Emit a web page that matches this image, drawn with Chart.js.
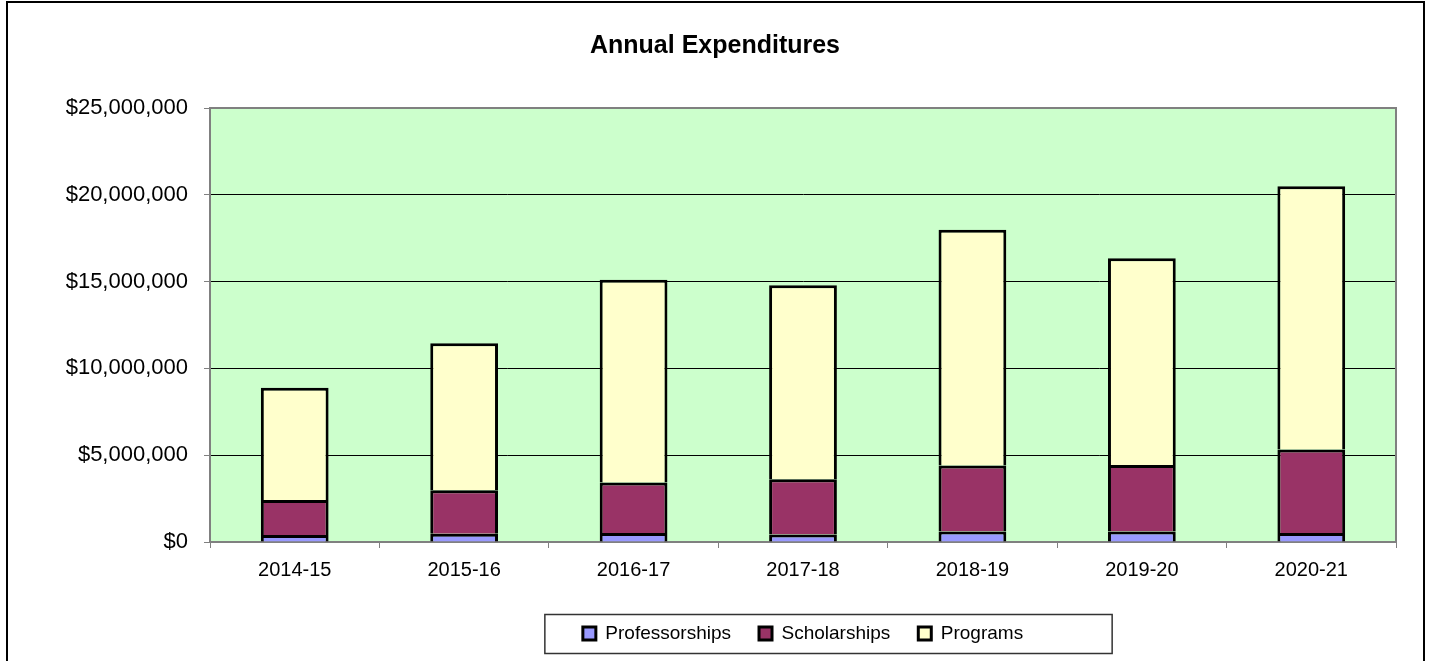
<!DOCTYPE html>
<html lang="en">
<head>
  <meta charset="UTF-8">
  <title>Annual Expenditures</title>
  <script src="https://cdn.jsdelivr.net/npm/chart.js"></script>
  <style>
    body { margin: 0; background: #fff; overflow: hidden; }
    #wrap { position: relative; width: 1430px; height: 680px; }
  </style>
</head>
<body>
  <div id="wrap"><canvas id="myChart" width="1430" height="680"></canvas></div>

  <script>
    // values (dollars)
    const years = ["2014-15", "2015-16", "2016-17", "2017-18", "2018-19", "2019-20", "2020-21"];
    const professorships = [400000, 480000, 520000, 430000, 600000, 600000, 520000];
    const scholarships = [2020000, 2500000, 2910000, 3190000, 3810000, 3840000, 4810000];
    const programs = [6460000, 8470000, 11670000, 11170000, 13580000, 11910000, 15160000];
    const yMax = 25000000;
    const yStep = 5000000;

    const FONT = '"Liberation Sans", Arial, sans-serif';

    // green plot area + grey border, outer frame, box round the legend
    const decor = {
      id: 'decor',
      beforeDraw(chart) {
        const { ctx, chartArea: a } = chart;
        ctx.save();
        ctx.fillStyle = '#ccffcc';
        ctx.fillRect(a.left, a.top, a.right - a.left, a.bottom - a.top);
        ctx.restore();
      },
      beforeDatasetsDraw(chart) {
        const { ctx, chartArea: a } = chart;
        ctx.save();
        ctx.strokeStyle = '#808080';
        ctx.lineWidth = 2;
        ctx.strokeRect(a.left, a.top, a.right - a.left, a.bottom - a.top);
        ctx.restore();
      },
      afterDraw(chart) {
        const ctx = chart.ctx;
        ctx.save();
        ctx.strokeStyle = '#000';
        ctx.lineWidth = 2;
        ctx.beginPath();
        ctx.moveTo(7, 700); ctx.lineTo(7, 2); ctx.lineTo(1424, 2); ctx.lineTo(1424, 700);
        ctx.stroke();
        const hb = chart.legend.legendHitBoxes;
        if (hb && hb.length) {
          const first = hb[0], last = hb[hb.length - 1];
          const cy = first.top + first.height / 2;
          ctx.lineWidth = 1.5;
          ctx.strokeStyle = '#333';
          const x0 = first.left - 38, x1 = last.left + last.width + 89;
          ctx.strokeRect(x0, cy - 19, x1 - x0, 39);
        }
        ctx.restore();
      }
    };

    new Chart(document.getElementById("myChart").getContext("2d"), {
      type: 'bar',
      data: {
        labels: years,
        datasets: [
          { label: "Professorships", data: professorships, backgroundColor: '#9999ff' },
          { label: "Scholarships", data: scholarships, backgroundColor: '#993366' },
          { label: "Programs", data: programs, backgroundColor: '#ffffcc' }
        ]
      },
      options: {
        responsive: false,
        animation: false,
        layout: { padding: { left: 0, right: 0, top: 0, bottom: 27 } },
        datasets: {
          bar: {
            borderColor: '#000',
            borderWidth: 3,
            categoryPercentage: 1,
            barPercentage: 0.4
          }
        },
        plugins: {
          title: {
            display: true,
            text: "Annual Expenditures",
            color: '#000',
            font: { family: FONT, size: 25, weight: 'bold' },
            padding: { top: 31, bottom: 47 }
          },
          legend: {
            position: 'bottom',
            fullSize: false,
            labels: {
              color: '#000',
              font: { family: FONT, size: 19 },
              boxWidth: 13,
              boxHeight: 13,
              padding: 28
            }
          },
          tooltip: { enabled: false }
        },
        scales: {
          x: {
            stacked: true,
            grid: { display: true, drawOnChartArea: false, color: '#808080', tickLength: 6 },
            border: { color: '#808080', width: 2 },
            ticks: { color: '#000', font: { family: FONT, size: 20 }, padding: 10, maxRotation: 0 },
            afterFit(scale) { scale.height = 54; }
          },
          y: {
            stacked: true,
            min: 0,
            max: yMax,
            grid: { color: '#000', lineWidth: 1, tickLength: 6, tickColor: '#808080' },
            border: { color: '#808080', width: 2 },
            ticks: {
              stepSize: yStep,
              color: '#000',
              font: { family: FONT, size: 22 },
              padding: 16,
              callback: v => '$' + v.toLocaleString('en-US')
            },
            afterFit(scale) { scale.width = 210; }
          },
          // empty right-hand strip so the plot ends where the reference's does
          yRight: {
            position: 'right',
            grid: { display: false },
            border: { display: false },
            ticks: { display: false },
            afterFit(scale) { scale.width = 34; }
          }
        }
      },
      plugins: [decor]
    });
  </script>
</body>
</html>
